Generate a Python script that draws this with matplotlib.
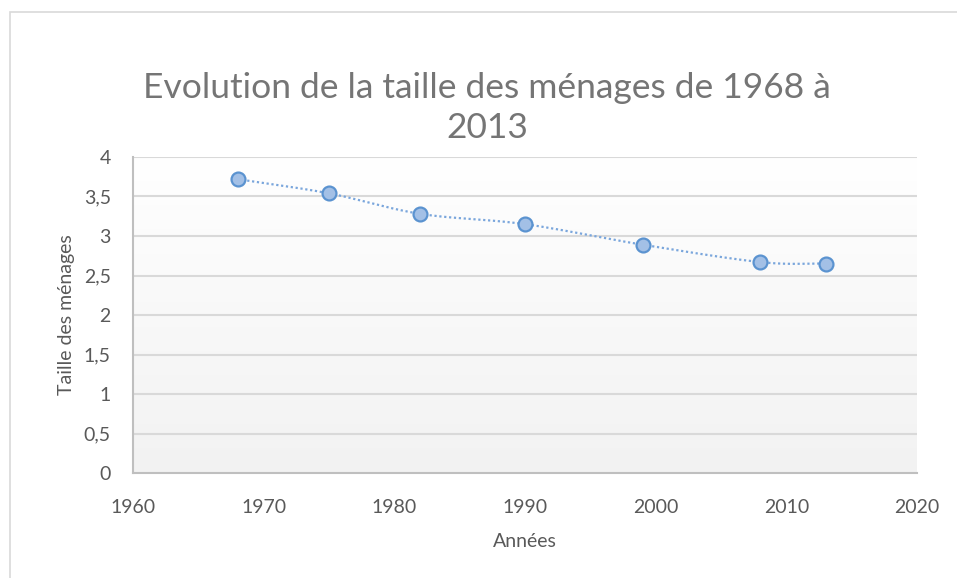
import matplotlib
matplotlib.use("Agg")
import matplotlib.pyplot as plt
import numpy as np
from matplotlib.patches import Rectangle

# data
years = [1968, 1975, 1982, 1990, 1999, 2008, 2013]
taille = [3.72, 3.54, 3.28, 3.15, 2.89, 2.67, 2.65]

x_ticks = [1960, 1970, 1980, 1990, 2000, 2010, 2020]
y_ticks = [0, 0.5, 1, 1.5, 2, 2.5, 3, 3.5, 4]
y_labels = ["0", "0,5", "1", "1,5", "2", "2,5", "3", "3,5", "4"]

plt.rcParams['font.family'] = ['Lato', 'DejaVu Sans']
text_col = '#595959'


def smooth(xs, ys, n=30):
    # Catmull-Rom curve through the points, like Excel's smoothed line
    xs = np.asarray(xs, float)
    ys = np.asarray(ys, float)
    px = np.concatenate([[2 * xs[0] - xs[1]], xs, [2 * xs[-1] - xs[-2]]])
    py = np.concatenate([[2 * ys[0] - ys[1]], ys, [2 * ys[-1] - ys[-2]]])
    out_x, out_y = [], []
    t = np.linspace(0, 1, n)
    for i in range(1, len(px) - 2):
        for p, out in ((px, out_x), (py, out_y)):
            p0, p1, p2, p3 = p[i - 1], p[i], p[i + 1], p[i + 2]
            out.extend(0.5 * (2 * p1 + (-p0 + p2) * t
                              + (2 * p0 - 5 * p1 + 4 * p2 - p3) * t ** 2
                              + (-p0 + 3 * p1 - 3 * p2 + p3) * t ** 3))
    return out_x, out_y


fig = plt.figure(figsize=(9.57, 5.78), dpi=100)
fig.patches.append(Rectangle((10 / 957, -0.1), 1.2, 1.1 - 12 / 578,
                             transform=fig.transFigure, fill=False,
                             edgecolor='#d9d9d9', linewidth=1.2))

ax = fig.add_axes([133 / 957, 105 / 578, 784 / 957, 316 / 578])
ax.set_xlim(1960, 2020)
ax.set_ylim(0, 4)

# vertical gradient in the plot area
grad = np.linspace(0, 1, 256).reshape(-1, 1)
ax.imshow(grad, extent=[0, 1, 0, 1], transform=ax.transAxes, aspect='auto',
          cmap=matplotlib.colors.LinearSegmentedColormap.from_list(
              'bg', ['#f2f2f2', '#ffffff']), origin='lower', zorder=0)

for yv in y_ticks[1:]:
    ax.axhline(yv, color='#d9d9d9', linewidth=1.5, zorder=1)

sx, sy = smooth(years, taille)
ax.plot(sx, sy, linestyle=(0, (1, 1.2)), color='#7aa6dc', linewidth=1.6, zorder=2)
ax.plot(years, taille, 'o', markersize=10, markerfacecolor='#a3c0e6',
        markeredgecolor='#5b93d0', markeredgewidth=1.6, zorder=3)

for s in ['top', 'right']:
    ax.spines[s].set_visible(False)
for s in ['left', 'bottom']:
    ax.spines[s].set_color('#bfbfbf')
    ax.spines[s].set_linewidth(1.5)

ax.set_xticks(x_ticks)
ax.set_yticks(y_ticks)
ax.set_yticklabels(y_labels)
ax.tick_params(length=0, labelsize=14, colors=text_col)
ax.tick_params(axis='y', pad=16)
ax.tick_params(axis='x', pad=19)

ax.set_xlabel("Années", fontsize=14, color=text_col, labelpad=12)
ax.set_ylabel("Taille des ménages", fontsize=14, color=text_col, labelpad=6)

fig.text(0.509, 1 - 88 / 578, "Evolution de la taille des ménages de 1968 à",
         ha='center', va='center', fontsize=25.5, color='#757575')
fig.text(0.509, 1 - 128 / 578, "2013",
         ha='center', va='center', fontsize=25.5, color='#757575')

fig.savefig("out.png", dpi=100)
